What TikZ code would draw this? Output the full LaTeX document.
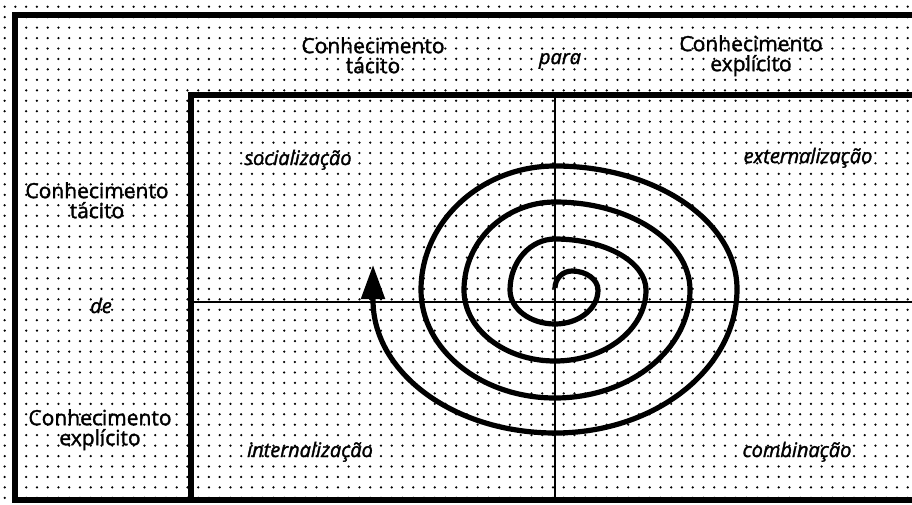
\documentclass[tikz,border=0pt]{standalone}
\usepackage{fontspec}
\setmainfont{Open Sans}[FakeBold=1.5]
\usetikzlibrary{calc,arrows.meta}
\begin{document}
\begin{tikzpicture}[x=1pt,y=-1pt,
  frame/.style={line width=5.5pt,line join=miter},
  axis/.style={line width=2.2pt},
  spiral/.style={line width=5.2pt},
  lab/.style={font=\fontsize{21}{20}\selectfont, align=center, inner sep=0pt, anchor=north},
  quad/.style={font=\fontsize{20}{20}\selectfont\itshape, inner sep=0pt, anchor=base}]
\useasboundingbox (0,0) rectangle (912,504);
\fill[white] (0,0) rectangle (912,504);
% dot grid
\foreach \i in {0,...,84}{
  \foreach \j in {0,...,47}{
    \fill (4.7+10.75*\i, 6.7+10.45*\j) circle (1.25);
  }
}
% frames
\draw[frame] (912,15) -- (15,15) -- (15,500) -- (912,500);
\draw[frame] (912,95) -- (191,95) -- (191,500);
% axes
\coordinate (vt) at (555,95);
\coordinate (vb) at (555,500);
\coordinate (hl) at (191,302);
\coordinate (hr) at (912,302);
\draw[axis] (vt) -- (vb);
\draw[axis] (hl) -- (hr);
% spiral points
\coordinate (s0) at (555,288);
\coordinate (s1) at (572,271);
\coordinate (s2) at (598,290);
\coordinate (s3) at (555,324);
\coordinate (s4) at (510,290);
\coordinate (s5) at (555,239);
\coordinate (s6) at (646,290);
\coordinate (s7) at (555,361);
\coordinate (s8) at (464,290);
\coordinate (s9) at (555,202);
\coordinate (s10) at (690,290);
\coordinate (s11) at (555,398);
\coordinate (s12) at (421,290);
\coordinate (s13) at (555,166);
\coordinate (s14) at (737,289);
\coordinate (s15) at (555,433);
\coordinate (s16) at (373,300);
\coordinate (tip) at (373,265);
\draw[spiral,-{Triangle[length=34pt,width=23pt]}] (s0)
 .. controls ($(s0)!.552!(s0|-s1)$) and ($(s1)!.552!(s0|-s1)$) .. (s1)
 .. controls ($(s1)!.552!(s2|-s1)$) and ($(s2)!.552!(s2|-s1)$) .. (s2)
 .. controls ($(s2)!.552!(s2|-s3)$) and ($(s3)!.552!(s2|-s3)$) .. (s3)
 .. controls ($(s3)!.552!(s4|-s3)$) and ($(s4)!.552!(s4|-s3)$) .. (s4)
 .. controls ($(s4)!.552!(s4|-s5)$) and ($(s5)!.552!(s4|-s5)$) .. (s5)
 .. controls ($(s5)!.552!(s6|-s5)$) and ($(s6)!.552!(s6|-s5)$) .. (s6)
 .. controls ($(s6)!.552!(s6|-s7)$) and ($(s7)!.552!(s6|-s7)$) .. (s7)
 .. controls ($(s7)!.552!(s8|-s7)$) and ($(s8)!.552!(s8|-s7)$) .. (s8)
 .. controls ($(s8)!.552!(s8|-s9)$) and ($(s9)!.552!(s8|-s9)$) .. (s9)
 .. controls ($(s9)!.552!(s10|-s9)$) and ($(s10)!.552!(s10|-s9)$) .. (s10)
 .. controls ($(s10)!.552!(s10|-s11)$) and ($(s11)!.552!(s10|-s11)$) .. (s11)
 .. controls ($(s11)!.552!(s12|-s11)$) and ($(s12)!.552!(s12|-s11)$) .. (s12)
 .. controls ($(s12)!.552!(s12|-s13)$) and ($(s13)!.552!(s12|-s13)$) .. (s13)
 .. controls ($(s13)!.552!(s14|-s13)$) and ($(s14)!.552!(s14|-s13)$) .. (s14)
 .. controls ($(s14)!.552!(s14|-s15)$) and ($(s15)!.552!(s14|-s15)$) .. (s15)
 .. controls ($(s15)!.552!(s16|-s15)$) and ($(s16)!.552!(s16|-s15)$) .. (s16)
 -- (tip);
% labels
\node[lab] (ct1) at (373,37) {Conhecimento\\tácito};
\node[lab] (ce1) at (751,35) {Conhecimento\\explícito};
\node[lab] (ct2) at (97,182) {Conhecimento\\tácito};
\node[lab] (ce2) at (100,409) {Conhecimento\\explícito};
\node[quad] (para) at (560,64) {para};
\node[quad] (de) at (101,313) {de};
\node[quad] (soc) at (298,165) {socialização};
\node[quad] (ext) at (808,163) {externalização};
\node[quad] (int) at (310,457) {internalização};
\node[quad] (comb) at (797,457) {combinação};
\end{tikzpicture}
\end{document}
